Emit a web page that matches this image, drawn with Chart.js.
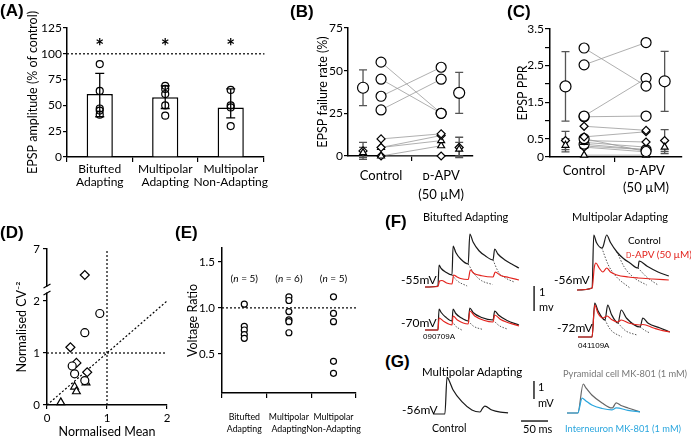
<!DOCTYPE html>
<html>
<head>
<meta charset="utf-8">
<script src="https://cdn.jsdelivr.net/npm/chart.js@4.4.1/dist/chart.umd.min.js"></script>
<style>
  body { margin: 0; background: #fff; }
  #fig { position: relative; width: 691px; height: 436px; overflow: hidden; font-family: Lato, "Open Sans", sans-serif; color: #000; }
  #fig canvas { position: absolute; }
  .t { position: absolute; white-space: nowrap; line-height: 1; transform: translateY(-50%); font-size: 12px; }
</style>
</head>
<body>
<div id="fig"></div>
<script>
// ---- (A) EPSP amplitude
const aCats = [['Bitufted', 'Adapting'], ['Multipolar', 'Adapting'], ['Multipolar', 'Non-Adapting']];
const aMean = [61, 58, 48];
const aErrLo = [39, 47, 38];
const aErrHi = [81, 69, 66];
const aCells = [[90, 64, 47, 45, 41], [69, 66, 61, 50, 40], [65, 50, 48, 30]];

// ---- (B) failure rate, control -> D-APV per cell
const bCtrl = [55, 45, 35, 27, 10, 5, 5, 0, 0];
const bApv = [25, 25, 52, 45, 13, 12, 9, 6, 0];
const bShapes = ['circle', 'circle', 'circle', 'circle', 'rectRot', 'rectRot', 'triangle', 'triangle', 'rectRot'];
const bMeanShapes = ['circle', 'rectRot', 'triangle'];
const bMeanCtrl = [40, 3, 2];
const bErrCtrl = [10.5, 5, 3];
const bMeanApv = [37, 5, 4];
const bErrApv = [12, 6, 4];

// ---- (C) paired pulse ratio
const cCtrl = [2.98, 2.52, 1.12, 1.10, 0.84, 0.55, 0.50, 0.45, 0.40, 0.35, 0.30, 0.27, 0.05];
const cApv = [1.94, 3.13, 2.15, 1.12, 0.73, 0.69, 0.15, 0.41, 0.27, 0.20, 0.20, 0.14, 0.05];
const cShapes = ['circle', 'circle', 'circle', 'circle', 'rectRot', 'rectRot', 'circle', 'rectRot', 'triangle', 'circle', 'triangle', 'rectRot', 'triangle'];
const cMeanShapes = ['circle', 'rectRot', 'triangle'];
const cMeanCtrl = [1.93, 0.45, 0.32];
const cErrCtrl = [0.95, 0.25, 0.18];
const cMeanApv = [2.07, 0.45, 0.27];
const cErrApv = [0.82, 0.30, 0.18];

// ---- (D) CV analysis (y axis broken above 2)
const dCircleX = [0.88, 0.63, 0.42, 0.46, 0.63];
const dCircleY = [1.76, 1.39, 0.75, 0.60, 0.47];
const dDiamondX = [0.63, 0.39, 0.49, 0.67];
const dDiamondY = [4.5, 1.11, 0.81, 0.63];
const dTriX = [0.23, 0.46, 0.49, 0.65];
const dTriY = [0.05, 0.35, 0.26, 0.43];
const dTickLabels = ['0', '1', '2', '7'];

// ---- (E) voltage ratio
const eCats = [['Bitufted', 'Adapting'], ['Multipolar', 'Adapting'], ['Multipolar', 'Non-Adapting']];
const eRatio = [[1.04, 0.80, 0.76, 0.71, 0.67], [1.12, 1.08, 0.96, 0.87, 0.85, 0.73], [1.12, 0.94, 0.85, 0.42, 0.29]];
const eN = [5, 6, 5];

// ---- (F) traces, [ms from trace start, mV above baseline]
const fBitCtrl55 = [[0,0],[24,0.04],[26,0.88],[30,0.74],[38,0.6],[50,0.48],[52,1.64],[57,1.38],[66,1.12],[80,0.92],[83,2.12],[89,1.8],[100,1.45],[112,1.24],[126,1.08],[129,1.52],[135,1.32],[148,1.08],[162,0.9],[174,0.76]];
const fBitApv55 = [[0,0],[24,0.02],[27,0.24],[31,0.26],[40,0.16],[50,0.12],[53,0.48],[58,0.42],[66,0.34],[80,0.3],[84,0.68],[90,0.55],[105,0.45],[126,0.4],[130,0.6],[140,0.46],[155,0.38],[174,0.28]];
const fBitFit55 = [[[50,0.48],[60,0.24],[78,0.04]], [[80,0.92],[92,0.5],[105,0.25],[125,0.1]], [[126,1.08],[136,0.6],[150,0.35],[165,0.2]]];
const fBitCtrl70 = [[0,0],[24,0],[26,0.84],[30,0.7],[38,0.52],[50,0.36],[52,0.84],[57,0.66],[66,0.5],[80,0.36],[83,0.88],[89,0.7],[105,0.5],[126,0.4],[129,0.76],[136,0.6],[152,0.38],[174,0.2]];
const fBitApv70 = [[0,0],[24,0],[26,0.48],[35,0.34],[50,0.2],[52,0.56],[60,0.4],[80,0.24],[83,0.76],[92,0.56],[110,0.38],[126,0.32],[129,0.6],[140,0.42],[174,0.16]];
const fBitFit70 = [[[50,0.36],[57,0.15],[68,0]], [[80,0.36],[90,0.15],[107,0.02]], [[126,0.4],[137,0.18],[152,0.04]]];
const fMulCtrl56 = [[0,0],[28,0.08],[31,2.2],[36,1.9],[46,1.68],[48,1.72],[55,2.2],[62,1.9],[74,1.52],[86,1.26],[98,1.08],[113,0.88],[115,1.16],[130,0.95],[150,0.72],[170,0.56]];
const fMulApv56 = [[0,0],[28,0.08],[32,0.9],[35,1.08],[41,0.88],[48,0.72],[55,0.88],[62,0.72],[74,0.6],[95,0.52],[113,0.48],[140,0.44],[170,0.4]];
const fMulFit56 = [[[46,1.68],[58,1.0],[72,0.55],[98,0.08]], [[74,1.52],[88,0.9],[105,0.5],[129,0.2]], [[113,0.88],[130,0.5],[150,0.2]]];
const fMulCtrl72 = [[0,0],[26,0],[31,1.36],[37,1.05],[50,0.68],[55,1.28],[62,0.9],[74,0.56],[80,1.08],[90,0.75],[115,0.4],[120,0.76],[130,0.55],[152,0.36],[170,0.2]];
const fMulApv72 = [[0,0],[26,0],[31,1.28],[37,0.95],[46,0.76],[54,0.84],[62,0.7],[74,0.6],[80,0.68],[95,0.55],[115,0.48],[120,0.5],[140,0.36],[152,0.28],[170,0.2]];
const fMulFit72 = [[[50,0.68],[60,0.3],[81,0]], [[74,0.56],[88,0.25],[109,0.08]], [[115,0.4],[125,0.25],[133,0.16]]];
const fScaleBar = [[202, 0.76], [202, 1.76]];

// ---- (G) traces
const gCtrl = [[0,0],[22,0],[26,2.05],[30,1.85],[37,1.35],[54,0.67],[72,0.22],[87,0.11],[92,0.33],[96,0.44],[109,0.22],[125,0.1],[139,0.06]];
const gPyr = [[0,0],[20,0],[30,1.61],[35,1.4],[46,1.0],[65,0.56],[83,0.28],[85,0.3],[91,0.56],[100,0.42],[113,0.28],[135,0.06]];
const gInt = [[0,0],[20,0],[28,0.83],[34,0.7],[46,0.44],[65,0.25],[83,0.17],[91,0.28],[113,0.15],[135,0.06]];
const gBarMv = [[187, 0.83], [187, 1.83]];
const gBarMs = [[163, -0.39], [213, -0.39]];

const MS_PER_PX = 50 / 27;
Chart.defaults.font.family = 'Lato, "Open Sans", sans-serif';
Chart.defaults.color = '#000';

const fig = document.getElementById('fig');

function newCanvas(box) {
    const c = document.createElement('canvas');
    c.width = box.width;
    c.height = box.height;
    c.style.left = box.left + 'px';
    c.style.top = box.top + 'px';
    fig.appendChild(c);
    return c;
}

// chart whose plotting area sits at a fixed place on the page
function makeChart(box, area, cfg) {
    const o = cfg.options;
    o.responsive = false;
    o.animation = false;
    o.events = [];
    o.plugins = Object.assign({legend: {display: false}, tooltip: {enabled: false}}, o.plugins || {});
    o.layout = {autoPadding: false, padding: {top: area.t - box.top, right: box.left + box.width - area.r, left: 0, bottom: 0}};
    o.scales.x.afterFit = s => { s.height = box.top + box.height - area.b; };
    o.scales.y.afterFit = s => { s.width = area.l - box.left; };
    return new Chart(newCanvas(box), cfg);
}

function txt(html, x, y, css) {
    const d = document.createElement('div');
    d.className = 't';
    d.innerHTML = html;
    d.style.left = x + 'px';
    d.style.top = y + 'px';
    Object.assign(d.style, css || {});
    fig.appendChild(d);
}

function errPlugin(list, before) {
    const draw = chart => {
        const ctx = chart.ctx;
        list.forEach(b => {
            const x = chart.scales[b.axis || 'x'].getPixelForValue(b.x);
            const y1 = chart.scales.y.getPixelForValue(b.lo);
            const y2 = chart.scales.y.getPixelForValue(b.hi);
            ctx.save();
            ctx.strokeStyle = b.color;
            ctx.lineWidth = b.width || 1.3;
            ctx.beginPath();
            ctx.moveTo(x, y1); ctx.lineTo(x, y2);
            ctx.moveTo(x - b.cap, y1); ctx.lineTo(x + b.cap, y1);
            ctx.moveTo(x - b.cap, y2); ctx.lineTo(x + b.cap, y2);
            ctx.stroke();
            ctx.restore();
        });
    };
    return before ? {id: 'errB', beforeDatasetsDraw: draw} : {id: 'errA', afterDatasetsDraw: draw};
}

function hLine(value, extend) {
    return {
        id: 'hline',
        beforeDatasetsDraw(chart) {
            const {ctx, chartArea: a} = chart;
            const y = chart.scales.y.getPixelForValue(value);
            ctx.save();
            ctx.setLineDash([2, 2]);
            ctx.lineWidth = 1.2;
            ctx.strokeStyle = '#000';
            ctx.beginPath();
            ctx.moveTo(a.left, y);
            ctx.lineTo(a.right + extend, y);
            ctx.stroke();
            ctx.restore();
        }
    };
}

const axisLine = {color: '#000', width: 1.5};
const tickMarks = {drawOnChartArea: false, tickLength: 4, color: '#000', lineWidth: 1.2};
const marker = {pointBackgroundColor: '#fff', pointBorderColor: '#000', pointBorderWidth: 1.2, showLine: false, clip: false};

// ================= (A)
makeChart({left: 0, top: 0, width: 270, height: 200}, {l: 67, t: 28, r: 264, b: 157}, {
    type: 'bar',
    data: {
        labels: aCats,
        datasets: [
            {data: aMean, backgroundColor: '#fff', borderColor: '#000', borderWidth: 1.5, grouped: false,
                barPercentage: 0.4, categoryPercentage: 1, order: 2},
            Object.assign({type: 'scatter', xAxisID: 'xp', order: 1, pointRadius: 3.5,
                data: aCells.flatMap((c, i) => c.map(v => ({x: i, y: v})))}, marker, {pointBackgroundColor: 'rgba(255,255,255,0)'})
        ]
    },
    options: {
        scales: {
            x: {type: 'category', offset: true, border: axisLine,
                grid: Object.assign({}, tickMarks, {offset: true, tickLength: 5}),
                ticks: {font: {size: 12, lineHeight: 1.08}, padding: 1, maxRotation: 0, autoSkip: false}},
            xp: {type: 'linear', display: false, offset: false, grid: {offset: false}, min: -0.5, max: 2.5},
            y: {min: 0, max: 125, border: axisLine, grid: tickMarks,
                ticks: {stepSize: 25, font: {size: 12}, padding: 1},
                title: {display: true, text: 'EPSP amplitude (% of control)', font: {size: 12.5}, padding: {top: 25.5, bottom: 0}}}
        }
    },
    plugins: [
        hLine(100, 1),
        errPlugin(aMean.map((m, i) => ({x: i, lo: aErrLo[i], hi: aErrHi[i], color: '#000', cap: 4.5})), false),
        {id: 'stars', afterDatasetsDraw(chart) {
            const ctx = chart.ctx;
            ctx.save();
            ctx.font = 'bold 21px Lato, sans-serif';
            ctx.textAlign = 'center';
            ctx.textBaseline = 'middle';
            ctx.fillStyle = '#000';
            aMean.forEach((m, i) => ctx.fillText('*', chart.scales.x.getPixelForValue(i), chart.scales.y.getPixelForValue(106)));
            ctx.restore();
        }}
    ]
});

// ================= (B) and (C)
function pairedSets(ctrl, apv, shapes, big) {
    const lines = ctrl.map((v, i) => ({data: [{x: 1, y: v}, {x: 2, y: apv[i]}], showLine: true, pointRadius: 0,
        borderColor: '#9a9a9a', borderWidth: 0.8, order: 3, clip: false}));
    const pts = ctrl.map((v, i) => Object.assign({data: [{x: 1, y: v}, {x: 2, y: apv[i]}], pointStyle: shapes[i],
        pointRadius: shapes[i] === 'circle' ? big : 4, order: 1}, marker));
    return lines.concat(pts);
}

function meanSets(mc, ma, shapes, big) {
    const all = shapes.concat(shapes);
    return [Object.assign({data: mc.map(v => ({x: 0.7, y: v})).concat(ma.map(v => ({x: 2.3, y: v}))),
        pointStyle: all, pointRadius: all.map(s => s === 'circle' ? big : 4), order: 0}, marker)];
}

function meanErrs(mc, ec, ma, ea) {
    return mc.map((m, i) => ({x: 0.7, lo: m - ec[i], hi: m + ec[i], color: '#555', cap: 4}))
        .concat(ma.map((m, i) => ({x: 2.3, lo: m - ea[i], hi: m + ea[i], color: '#555', cap: 4})));
}

function pairedX(fontLh, pad, xmax) {
    return {type: 'linear', min: 0.45, max: xmax, border: axisLine,
        afterBuildTicks: s => { s.ticks = [{value: 1}, {value: 1.5}, {value: 2}]; },
        grid: {drawOnChartArea: false, tickLength: 5, lineWidth: 1.2, color: c => (c.tick && c.tick.value === 1.5) ? '#000' : 'rgba(0,0,0,0)'},
        ticks: {callback: v => v === 1 ? 'Control' : (v === 2 ? ['ᴅ-APV', '(50 µM)'] : ''),
            font: {size: 13, lineHeight: fontLh}, padding: pad, maxRotation: 0, autoSkip: false}};
}

makeChart({left: 272, top: 0, width: 205, height: 205}, {l: 348, t: 28, r: 473, b: 156}, {
    type: 'scatter',
    data: {datasets: pairedSets(bCtrl, bApv, bShapes, 5).concat(meanSets(bMeanCtrl, bMeanApv, bMeanShapes, 5.5))},
    options: {
        scales: {
            x: pairedX(1.46, 5, 2.53),
            y: {min: 0, max: 75, border: axisLine, grid: tickMarks,
                ticks: {stepSize: 25, font: {size: 12}, padding: 1},
                title: {display: true, text: 'EPSP failure rate (%)', font: {size: 12.5}, padding: {top: 43.5, bottom: 0}}}
        }
    },
    plugins: [errPlugin(meanErrs(bMeanCtrl, bErrCtrl, bMeanApv, bErrApv), true)]
});

makeChart({left: 480, top: 0, width: 211, height: 200}, {l: 550, t: 29, r: 682, b: 157}, {
    type: 'scatter',
    data: {datasets: pairedSets(cCtrl, cApv, cShapes, 5).concat(meanSets(cMeanCtrl, cMeanApv, cMeanShapes, 5.5))},
    options: {
        scales: {
            x: pairedX(1.3, 0, 2.58),
            y: {min: 0, max: 3.5, border: axisLine, grid: Object.assign({}, tickMarks, {tickLength: 5}),
                ticks: {stepSize: 0.5, font: {size: 12}, padding: 1,
                    callback: v => [0, 0.5, 1.5, 2.5, 3.5].includes(v) ? String(v) : ''},
                title: {display: true, text: 'EPSP PPR', font: {size: 12.5}, padding: {top: 35, bottom: 0}}}
        }
    },
    plugins: [errPlugin(meanErrs(cMeanCtrl, cErrCtrl, cMeanApv, cErrApv), true)]
});

// ================= (D)
const brk = v => v <= 2 ? v : 2 + (v - 2) / 5;
const dotted = {showLine: true, pointRadius: 0, borderColor: '#000', borderWidth: 1.2, borderDash: [2, 2], clip: false, order: 3};
makeChart({left: 0, top: 235, width: 176, height: 205}, {l: 47, t: 249, r: 167, b: 405}, {
    type: 'scatter',
    data: {datasets: [
        Object.assign({data: [{x: 0, y: 0}, {x: 2, y: 2}]}, dotted),
        Object.assign({data: [{x: 0, y: 1}, {x: 2, y: 1}]}, dotted),
        Object.assign({data: [{x: 1, y: 0}, {x: 1, y: 3}]}, dotted),
        Object.assign({data: dCircleX.map((x, i) => ({x, y: brk(dCircleY[i])})), pointStyle: 'circle', pointRadius: 4}, marker),
        Object.assign({data: dDiamondX.map((x, i) => ({x, y: brk(dDiamondY[i])})), pointStyle: 'rectRot', pointRadius: 4.5}, marker),
        Object.assign({data: dTriX.map((x, i) => ({x, y: brk(dTriY[i])})), pointStyle: 'triangle', pointRadius: 4.5}, marker)
    ]},
    options: {
        scales: {
            x: {min: 0, max: 2, border: axisLine, grid: tickMarks,
                ticks: {stepSize: 1, font: {size: 11.5}, padding: 2},
                title: {display: true, text: 'Normalised Mean', font: {size: 12.5}, padding: {top: 0, bottom: 1}}},
            y: {min: 0, max: 3, border: axisLine, grid: tickMarks,
                afterBuildTicks: s => { s.ticks = [0, 1, 2, 3].map(value => ({value})); },
                ticks: {font: {size: 11.5}, padding: 3, callback: v => dTickLabels[v]},
                title: {display: true, text: 'Normalised CV⁻²', font: {size: 12.5}, padding: {top: 14.5, bottom: 0}}}
        }
    },
    plugins: [{id: 'brk', afterDraw(chart) {
        const ctx = chart.ctx;
        const x = chart.chartArea.left;
        const y = chart.scales.y.getPixelForValue(2.22);
        ctx.save();
        ctx.fillStyle = '#fff';
        ctx.fillRect(x - 2, y - 3, 4, 6);
        ctx.strokeStyle = '#000';
        ctx.lineWidth = 1.2;
        ctx.beginPath();
        ctx.moveTo(x - 3.5, y - 1.5); ctx.lineTo(x + 3.5, y - 5.5);
        ctx.moveTo(x - 3.5, y + 5.5); ctx.lineTo(x + 3.5, y + 1.5);
        ctx.stroke();
        ctx.restore();
    }}]
});

// ================= (E)
makeChart({left: 176, top: 235, width: 199, height: 201}, {l: 222, t: 248, r: 368, b: 393}, {
    type: 'scatter',
    data: {
        labels: eCats,
        datasets: [Object.assign({xAxisID: 'xp', pointStyle: 'circle', pointRadius: 3,
            data: eRatio.flatMap((c, i) => c.map(v => ({x: i, y: v})))}, marker)]
    },
    options: {
        scales: {
            x: {type: 'category', labels: eCats, offset: true, border: axisLine,
                grid: Object.assign({}, tickMarks, {offset: true, tickLength: 5}),
                ticks: {font: {size: 8.8, lineHeight: 1.35}, padding: 13, maxRotation: 0, autoSkip: false}},
            xp: {type: 'linear', display: false, offset: false, min: -0.5, max: 2.5},
            y: {min: 0.076, max: 1.65, border: axisLine, grid: tickMarks,
                afterBuildTicks: s => { s.ticks = [0.5, 1, 1.5].map(value => ({value})); },
                ticks: {font: {size: 11.5}, padding: 3, callback: v => v.toFixed(1)},
                title: {display: true, text: 'Voltage Ratio', font: {size: 12.5}, padding: {top: 9, bottom: 0}}}
        }
    },
    plugins: [hLine(1, 2), {id: 'nlab', afterDatasetsDraw(chart) {
        const ctx = chart.ctx;
        const y = chart.scales.y.getPixelForValue(1.32);
        ctx.save();
        ctx.fillStyle = '#000';
        ctx.textBaseline = 'middle';
        eN.forEach((n, i) => {
            const parts = [['(', ''], ['n', 'italic '], [' = ' + n + ')', '']];
            let w = 0;
            parts.forEach(p => { ctx.font = p[1] + '10px Lato, sans-serif'; w += ctx.measureText(p[0]).width; });
            let x = chart.scales.x.getPixelForValue(i) - w / 2;
            parts.forEach(p => { ctx.font = p[1] + '10px Lato, sans-serif'; ctx.fillText(p[0], x, y); x += ctx.measureText(p[0]).width; });
        });
        ctx.restore();
    }}]
});

// ================= (F) and (G) traces
function traceChart(start, widthPx, upPx, downPx, mvPx, sets) {
    const box = {left: start[0], top: start[1] - upPx, width: widthPx, height: upPx + downPx};
    new Chart(newCanvas(box), {
        type: 'scatter',
        data: {datasets: sets.map(s => ({
            data: s.pts.map(p => ({x: p[0], y: p[1]})), showLine: true, pointRadius: 0, clip: false,
            borderColor: s.color, borderWidth: s.w || 1.2, borderDash: s.dash || [],
            cubicInterpolationMode: s.straight ? 'default' : 'monotone'}))},
        options: {responsive: false, animation: false, events: [],
            layout: {autoPadding: false, padding: 0},
            plugins: {legend: {display: false}, tooltip: {enabled: false}},
            scales: {x: {display: false, min: 0, max: widthPx * MS_PER_PX},
                y: {display: false, min: -downPx / mvPx, max: upPx / mvPx}}}
    });
}

const RED = '#e3231d', BLACK = '#1a1a1a', FIT = '#555', BLUE = '#2aa6de';
const fitSets = fits => fits.map(p => ({pts: p, color: FIT, w: 1, dash: [1.5, 1.5]}));

traceChart([425, 287], 100, 60, 6, 25,
    [{pts: fBitApv55, color: RED}, {pts: fBitCtrl55, color: BLACK}].concat(fitSets(fBitFit55)));
traceChart([425, 330], 115, 50, 6, 25,
    [{pts: fBitApv70, color: RED}, {pts: fBitCtrl70, color: BLACK}, {pts: fScaleBar, color: '#000', w: 1.3, straight: true}].concat(fitSets(fBitFit70)));
traceChart([577, 290], 100, 60, 6, 25,
    [{pts: fMulApv56, color: RED}, {pts: fMulCtrl56, color: BLACK}].concat(fitSets(fMulFit56)));
traceChart([578, 337], 100, 40, 6, 25,
    [{pts: fMulApv72, color: RED}, {pts: fMulCtrl72, color: BLACK}].concat(fitSets(fMulFit72)));
traceChart([433, 414], 120, 45, 10, 18,
    [{pts: gCtrl, color: BLACK}, {pts: gBarMv, color: '#000', w: 1.3, straight: true}, {pts: gBarMs, color: '#000', w: 1.3, straight: true}]);
traceChart([567, 413], 80, 35, 6, 18,
    [{pts: gInt, color: BLUE}, {pts: gPyr, color: '#666'}]);

// ================= text
const panelFont = {font: 'bold 17px "Liberation Sans", Arial, sans-serif'};
[['(A)', 0, 11], ['(B)', 290, 12], ['(C)', 507, 12], ['(D)', 0, 233], ['(E)', 175, 233], ['(F)', 385, 222], ['(G)', 385, 362]]
    .forEach(l => txt(l[0], l[1], l[2], panelFont));

const smallId = {fontSize: '8px', fontFamily: '"Liberation Sans", Arial, sans-serif'};
txt('Bitufted Adapting', 423, 216, {fontSize: '11px'});
txt('Multipolar Adapting', 572, 216, {fontSize: '11px'});
txt('-55mV', 401, 280);
txt('-70mV', 401, 323);
txt('090709A', 423, 337, smallId);
txt('-56mV', 554, 280);
txt('-72mV', 557, 328);
txt('041109A', 578, 346, smallId);
txt('Control', 628, 240, {fontSize: '10px'});
txt('<span style="font-variant:small-caps">d</span>-APV (50 µM)', 626, 254, {color: RED, fontSize: '10px'});
txt('1', 539, 291, {fontSize: '11px'});
txt('mv', 539, 306, {fontSize: '11px'});

txt('Multipolar Adapting', 422, 372, {fontSize: '11.5px'});
txt('-56mV', 402, 410);
txt('Control', 432, 428, {fontSize: '10.5px'});
txt('50 ms', 523, 428, {fontSize: '11px'});
txt('1', 538, 386, {fontSize: '11px'});
txt('mV', 538, 402, {fontSize: '11px'});
txt('Pyramidal cell MK-801 (1 mM)', 563, 374, {color: '#777', fontSize: '9.3px'});
txt('Interneuron MK-801 (1 mM)', 565, 429, {color: BLUE, fontSize: '9.3px'});
</script>
</body>
</html>
